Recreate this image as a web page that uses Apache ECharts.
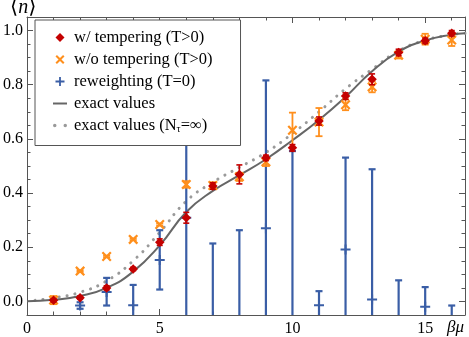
<!DOCTYPE html>
<html>
<head>
<meta charset="utf-8">
<script src="https://cdn.jsdelivr.net/npm/echarts@6/dist/echarts.min.js"></script>
<style>
  html, body { margin: 0; padding: 0; background: #fff; }
  #chart { width: 469px; height: 337px; }
</style>
</head>
<body>
<div id="chart"></div>
<script>
// beta*mu sample points
var betaMu = [1, 2, 3, 4, 5, 6, 7, 8, 9, 10, 11, 12, 13, 14, 15, 16];

// w/ tempering (T>0)
var temperMean = [0.004, 0.014, 0.05, 0.12, 0.219, 0.309, 0.426, 0.469, 0.53, 0.567, 0.666, 0.758, 0.82, 0.919, 0.962, 0.99];
var temperErr = [0.006, 0.006, 0.008, 0.006, 0.012, 0.02, 0.012, 0.035, 0.01, 0.012, 0.015, 0.012, 0.02, 0.012, 0.01, 0.01];

// w/o tempering (T>0)
var noTemperMean = [0.005, 0.112, 0.166, 0.229, 0.284, 0.432, 0.428, 0.46, 0.515, 0.632, 0.662, 0.726, 0.792, 0.909, 0.968, 0.965];
var noTemperErr = [0.015, 0.003, 0.003, 0.003, 0.004, 0.012, 0.012, 0.015, 0.015, 0.065, 0.052, 0.02, 0.02, 0.012, 0.02, 0.022];

// reweighting (T=0)
var reweightMean = [null, -0.015, 0.035, -0.014, 0.153, 0.309, -0.15, -0.15, 0.27, -0.2, -0.014, 0.192, 0.007, -0.1, -0.02, -0.06];
var reweightLow = [null, -0.027, -0.015, -0.089, 0.044, -0.3, -0.51, -0.56, -0.276, -0.95, -0.066, -0.147, -0.474, -0.28, -0.093, -0.105];
var reweightHigh = [null, -0.003, 0.087, 0.061, 0.263, 0.92, 0.214, 0.263, 0.816, 0.555, 0.038, 0.531, 0.488, 0.078, 0.053, -0.015];

// exact curves
var exactX = [0, 1, 2, 3, 4, 5, 6, 7, 8, 9, 10, 11, 12, 13, 14, 15, 16, 16.5];
var exactVals = [0.001, 0.006, 0.02, 0.05, 0.11, 0.207, 0.33, 0.408, 0.466, 0.525, 0.595, 0.67, 0.755, 0.85, 0.922, 0.963, 0.985, 0.99];
var infX = [0.3, 1, 2, 3, 4, 5, 6, 7, 8, 9, 10, 11, 12, 13, 14, 15, 16, 16.5];
var infVals = [0.004, 0.013, 0.034, 0.076, 0.15, 0.255, 0.37, 0.44, 0.495, 0.55, 0.62, 0.7, 0.785, 0.857, 0.925, 0.964, 0.985, 0.99];

// ticks
var xMajorTicks = [0, 5, 10, 15];
var xMinorTicks = [1, 2, 3, 4, 6, 7, 8, 9, 11, 12, 13, 14, 16];
var yMajorTicks = [0, 0.2, 0.4, 0.6, 0.8, 1.0];
var yMinorTicks = [-0.05, 0.05, 0.1, 0.15, 0.25, 0.3, 0.35, 0.45, 0.5, 0.55, 0.65, 0.7, 0.75, 0.85, 0.9, 0.95, 1.05];

var RED = '#c40000', ORANGE = '#ff8f1c', BLUE = '#3a5ea6';
var GRAY = '#666', LIGHTGRAY = '#9a9a9a';
var FRAME = '#555';
var SERIF = '"Liberation Serif", "DejaVu Serif", serif';

var ICON_DIAMOND = 'path://M5,0 L10,5 L5,10 L0,5 Z';
var ICON_CROSS = 'path://M0,1.6 L1.6,0 L5,3.4 L8.4,0 L10,1.6 L6.6,5 L10,8.4 L8.4,10 L5,6.6 L1.6,10 L0,8.4 L3.4,5 Z';
var ICON_PLUS = 'path://M4,0 H6 V4 H10 V6 H6 V10 H4 V6 H0 V4 H4 Z';
var ICON_LINE = 'path://M0,0 H14 V2 H0 Z';
var ICON_DOTS = 'path://M0,1.5 A1.5,1.5 0 1,1 3,1.5 A1.5,1.5 0 1,1 0,1.5 Z M9,1.5 A1.5,1.5 0 1,1 12,1.5 A1.5,1.5 0 1,1 9,1.5 Z';

function pairs(xs, ys) {
  return xs.map(function (x, i) { return [x, ys[i]]; });
}

function errorBars(color, lineWidth, capHalf) {
  return function (params, api) {
    var x = api.value(0);
    var lo = api.coord([x, api.value(1)]);
    var hi = api.coord([x, api.value(2)]);
    var st = { stroke: color, lineWidth: lineWidth };
    return {
      type: 'group',
      children: [
        { type: 'line', shape: { x1: lo[0], y1: lo[1], x2: hi[0], y2: hi[1] }, style: st },
        { type: 'line', shape: { x1: hi[0] - capHalf, y1: hi[1], x2: hi[0] + capHalf, y2: hi[1] }, style: st },
        { type: 'line', shape: { x1: lo[0] - capHalf, y1: lo[1], x2: lo[0] + capHalf, y2: lo[1] }, style: st }
      ]
    };
  };
}

var temperBars = betaMu.map(function (x, i) { return [x, temperMean[i] - temperErr[i], temperMean[i] + temperErr[i]]; });
var noTemperBars = betaMu.map(function (x, i) { return [x, noTemperMean[i] - noTemperErr[i], noTemperMean[i] + noTemperErr[i]]; });
var reweightBars = [];
var reweightPts = [];
betaMu.forEach(function (x, i) {
  if (reweightMean[i] == null) return;
  reweightBars.push([x, reweightLow[i], reweightHigh[i]]);
  reweightPts.push([x, reweightMean[i]]);
});

function frameAxis(pos, min, max, ticks, len, labels, line) {
  return {
    type: 'value',
    position: pos,
    min: min,
    max: max,
    axisLine: { show: line, onZero: false, lineStyle: { color: FRAME, width: 1 } },
    axisTick: { show: true, inside: true, length: len, customValues: ticks, lineStyle: { color: FRAME, width: 1 } },
    axisLabel: labels ? labels : { show: false },
    splitLine: { show: false }
  };
}

var chart = echarts.init(document.getElementById('chart'));

var option = {
  animation: false,
  backgroundColor: '#fff',
  grid: { left: 26, right: 4, top: 17, bottom: 22 },
  xAxis: [
    frameAxis('bottom', 0, 16.5, xMajorTicks, 6, {
      customValues: xMajorTicks, fontFamily: SERIF, fontSize: 16, color: '#000', margin: 6
    }, true),
    frameAxis('top', 0, 16.5, xMajorTicks, 6, null, true),
    frameAxis('bottom', 0, 16.5, xMinorTicks, 3.5, null, false),
    frameAxis('top', 0, 16.5, xMinorTicks, 3.5, null, false)
  ],
  yAxis: [
    frameAxis('left', -0.05, 1.05, yMajorTicks, 6, {
      customValues: yMajorTicks, fontFamily: SERIF, fontSize: 16, color: '#000', margin: 4,
      formatter: function (v) { return v.toFixed(1); }
    }, true),
    frameAxis('right', -0.05, 1.05, yMajorTicks, 6, null, true),
    frameAxis('left', -0.05, 1.05, yMinorTicks, 3.5, null, false),
    frameAxis('right', -0.05, 1.05, yMinorTicks, 3.5, null, false)
  ],
  legend: {
    orient: 'vertical',
    left: 35,
    top: 20,
    padding: [9, 28, 11, 18],
    itemGap: 5,
    itemWidth: 14,
    itemHeight: 9,
    backgroundColor: '#fff',
    borderColor: FRAME,
    borderWidth: 1,
    selectedMode: false,
    textStyle: {
      fontFamily: SERIF, fontSize: 16.5, color: '#000', lineHeight: 16, padding: [0, 0, 0, 2],
      rich: { s: { fontFamily: SERIF, fontSize: 10, color: '#000', padding: [8, 0, 0, 0] } }
    },
    formatter: function (name) {
      return name.replace('N_τ', 'N{s|τ}');
    },
    data: [
      { name: 'w/ tempering (T>0)', icon: ICON_DIAMOND, itemStyle: { color: RED } },
      { name: 'w/o tempering (T>0)', icon: ICON_CROSS, itemStyle: { color: ORANGE } },
      { name: 'reweighting (T=0)', icon: ICON_PLUS, itemStyle: { color: BLUE } },
      { name: 'exact values', icon: ICON_LINE, itemStyle: { color: GRAY } },
      { name: 'exact values (N_τ=∞)', icon: ICON_DOTS, itemStyle: { color: LIGHTGRAY } }
    ]
  },
  graphic: [
    {
      type: 'text', left: 10, top: -3,
      style: { text: '⟨{i|n}⟩', font: '21px ' + SERIF, fill: '#000',
        rich: { i: { fontFamily: SERIF, fontStyle: 'italic', fontSize: 20, fill: '#000' } } }
    },
    {
      type: 'text', left: 447, top: 319,
      style: { text: 'βμ', font: 'italic 17px ' + SERIF, fill: '#000' }
    }
  ],
  series: [
    {
      name: 'exact values (N_τ=∞)',
      type: 'line',
      data: pairs(infX, infVals),
      smooth: 0.5,
      symbol: 'none',
      lineStyle: { color: LIGHTGRAY, width: 3, type: [0.1, 8], cap: 'round' },
      itemStyle: { color: LIGHTGRAY },
      z: 1
    },
    {
      name: 'exact values',
      type: 'line',
      data: pairs(exactX, exactVals),
      smooth: 0.5,
      symbol: 'none',
      lineStyle: { color: GRAY, width: 2 },
      itemStyle: { color: GRAY },
      z: 2
    },
    {
      type: 'custom',
      data: reweightBars,
      clip: true,
      renderItem: errorBars(BLUE, 2.2, 3.5),
      z: 3
    },
    {
      name: 'reweighting (T=0)',
      type: 'scatter',
      data: reweightPts,
      symbol: ICON_PLUS,
      symbolSize: 10,
      itemStyle: { color: BLUE, opacity: 1 },
      z: 4
    },
    {
      type: 'custom',
      data: noTemperBars,
      clip: true,
      renderItem: errorBars(ORANGE, 1.8, 3.5),
      z: 5
    },
    {
      name: 'w/o tempering (T>0)',
      type: 'scatter',
      data: pairs(betaMu, noTemperMean),
      symbol: ICON_CROSS,
      symbolSize: 10,
      itemStyle: { color: ORANGE, opacity: 1 },
      z: 6
    },
    {
      type: 'custom',
      data: temperBars,
      clip: true,
      renderItem: errorBars(RED, 1.6, 3),
      z: 7
    },
    {
      name: 'w/ tempering (T>0)',
      type: 'scatter',
      data: pairs(betaMu, temperMean),
      symbol: ICON_DIAMOND,
      symbolSize: 9.5,
      itemStyle: { color: RED, opacity: 1 },
      z: 8
    }
  ]
};

chart.setOption(option);
</script>
</body>
</html>
